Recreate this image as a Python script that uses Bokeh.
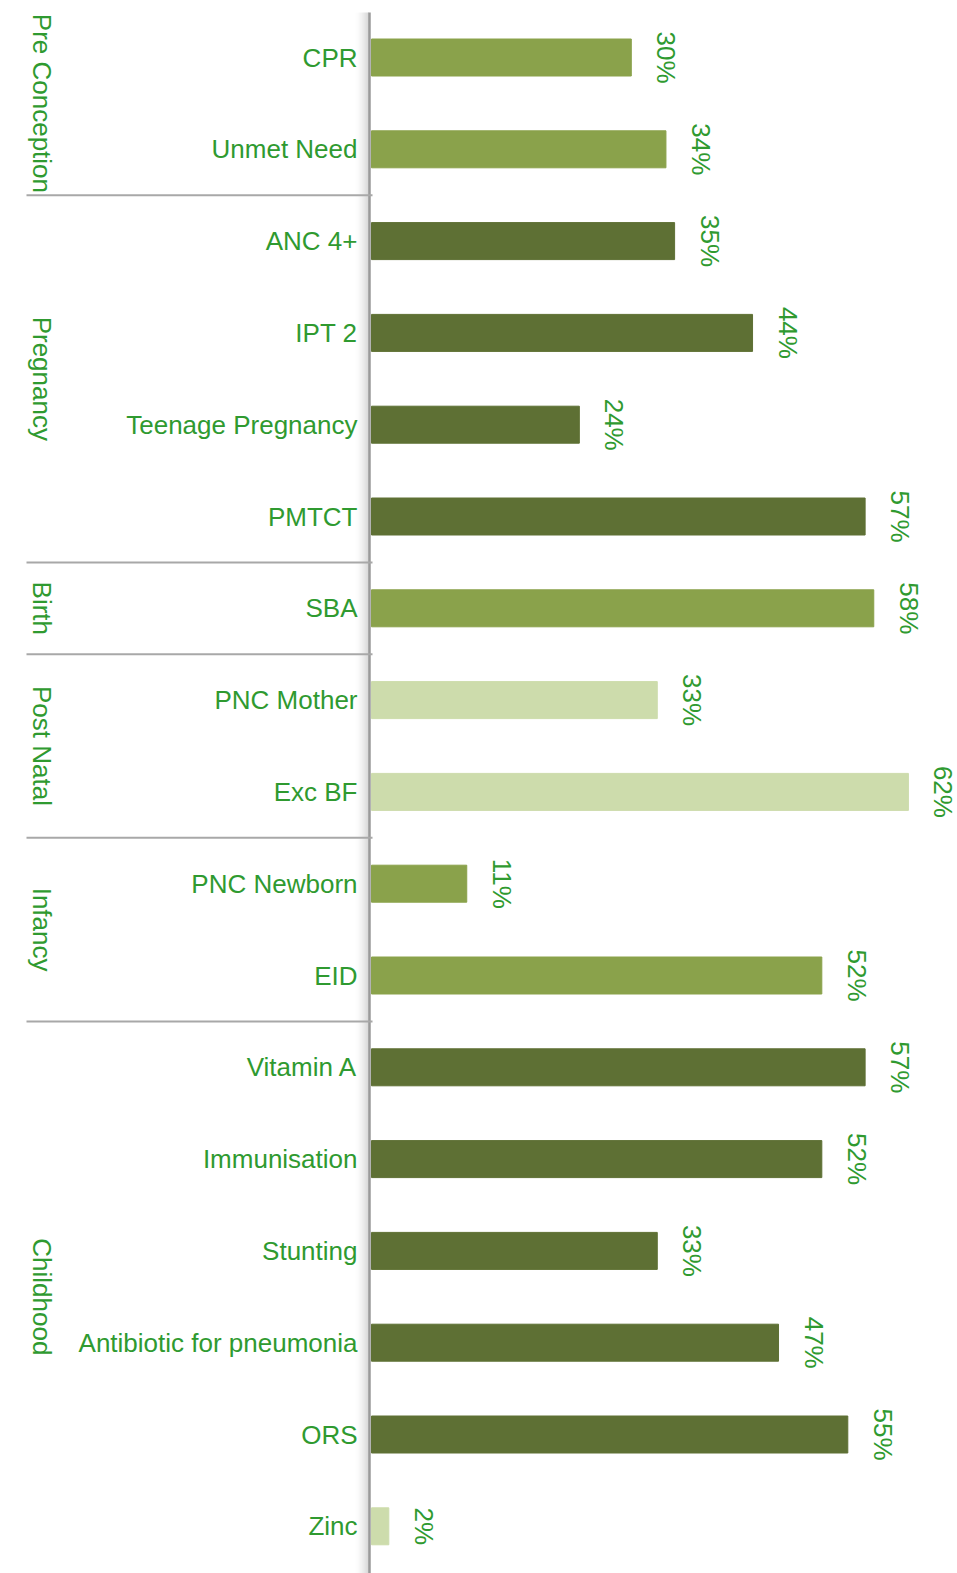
import numpy as np
from bokeh.plotting import figure
from bokeh.models import Range1d, ColumnDataSource
from bokeh.core.properties import value
from bokeh.embed import file_html
from bokeh.resources import INLINE

# ---------------- data ----------------
categories = ["CPR", "Unmet Need", "ANC 4+", "IPT 2", "Teenage Pregnancy", "PMTCT",
              "SBA", "PNC Mother", "Exc BF", "PNC Newborn", "EID",
              "Vitamin A", "Immunisation", "Stunting", "Antibiotic for pneumonia",
              "ORS", "Zinc"]
values = [30, 34, 35, 44, 24, 57, 58, 33, 62, 11, 52, 57, 52, 33, 47, 55, 2]
groups = ["Pre Conception", "Pregnancy", "Birth", "Post Natal", "Infancy", "Childhood"]
group_sizes = [2, 4, 1, 2, 2, 6]
shade = ["mid", "dark", "mid", "pale", "mid", "dark"]
zinc_shade = "pale"

# ---------------- styling ----------------
COLORS = {"mid": "#8aa24b", "dark": "#5e7034", "pale": "#cddcac"}
TXT = "#2f9a30"
FONT = "Liberation Sans"
FS = "26px"

W, H = 957, 1573
PX_PER_PCT = 8.66
X0_PX = 371.0          # pixel of 0 %
ROW_PX = 91.8
ROW0_PX = 57.0          # pixel of first row centre


def px_x(p):
    return (p - X0_PX) / PX_PER_PCT


x_range = Range1d(px_x(0), px_x(W))
y_range = Range1d(start=(H - ROW0_PX) / ROW_PX, end=-ROW0_PX / ROW_PX)

p = figure(width=W, height=H, x_range=x_range, y_range=y_range,
           output_backend="svg", toolbar_location=None, min_border=0)
p.axis.visible = False
p.grid.visible = False
p.outline_line_color = None

row_shade = []
for s, n in zip(shade, group_sizes):
    row_shade += [s] * n
row_shade[-1] = zinc_shade
colors = [COLORS[s] for s in row_shade]

ys = list(range(len(categories)))
src = ColumnDataSource(dict(y=ys, v=values, cat=categories, color=colors,
                            lab=[f"{v}%" for v in values]))

p.hbar(y="y", left=0, right="v", height=37 / ROW_PX, fill_color="color",
       line_color="color", source=src)

# value labels (rotated)
p.text(x="v", y="y", text="lab", source=src, angle=-np.pi / 2,
       x_offset=35, text_align="center", text_baseline="middle",
       text_font=value(FONT), text_font_size=FS, text_color=TXT)

# category labels
p.text(x=0, y="y", text="cat", source=src, x_offset=-14,
       text_align="right", text_baseline="middle",
       text_font=value(FONT), text_font_size=FS, text_color=TXT)

# axis line with shadow
top_row = (12 - ROW0_PX) / ROW_PX
bot_row = (H - ROW0_PX) / ROW_PX
for i in range(14):
    xp = X0_PX - 3 - i
    p.segment(x0=px_x(xp), x1=px_x(xp), y0=top_row, y1=bot_row,
              line_color="#000000", line_alpha=0.16 * (1 - i / 14) ** 1.6,
              line_width=1)
p.segment(x0=px_x(X0_PX - 2), x1=px_x(X0_PX - 2), y0=top_row, y1=bot_row,
          line_color="#9a9a9a", line_width=2.5)

# group separators & group labels
starts = np.cumsum([0] + group_sizes[:-1])
ends = starts + np.array(group_sizes) - 1
seps = [e + 0.5 for e in ends[:-1]]
p.segment(x0=[px_x(26)] * len(seps), x1=[px_x(X0_PX + 1)] * len(seps),
          y0=seps, y1=seps, line_color="#a8a8a8", line_width=2)

gsrc = ColumnDataSource(dict(x=[px_x(41)] * len(groups),
                             y=[(s + e) / 2 for s, e in zip(starts, ends)],
                             t=groups))
p.text(x="x", y="y", text="t", source=gsrc, angle=-np.pi / 2,
       text_align="center", text_baseline="middle",
       text_font=value(FONT), text_font_size=FS, text_color=TXT)

open("out.html", "w").write(file_html(p, INLINE))
